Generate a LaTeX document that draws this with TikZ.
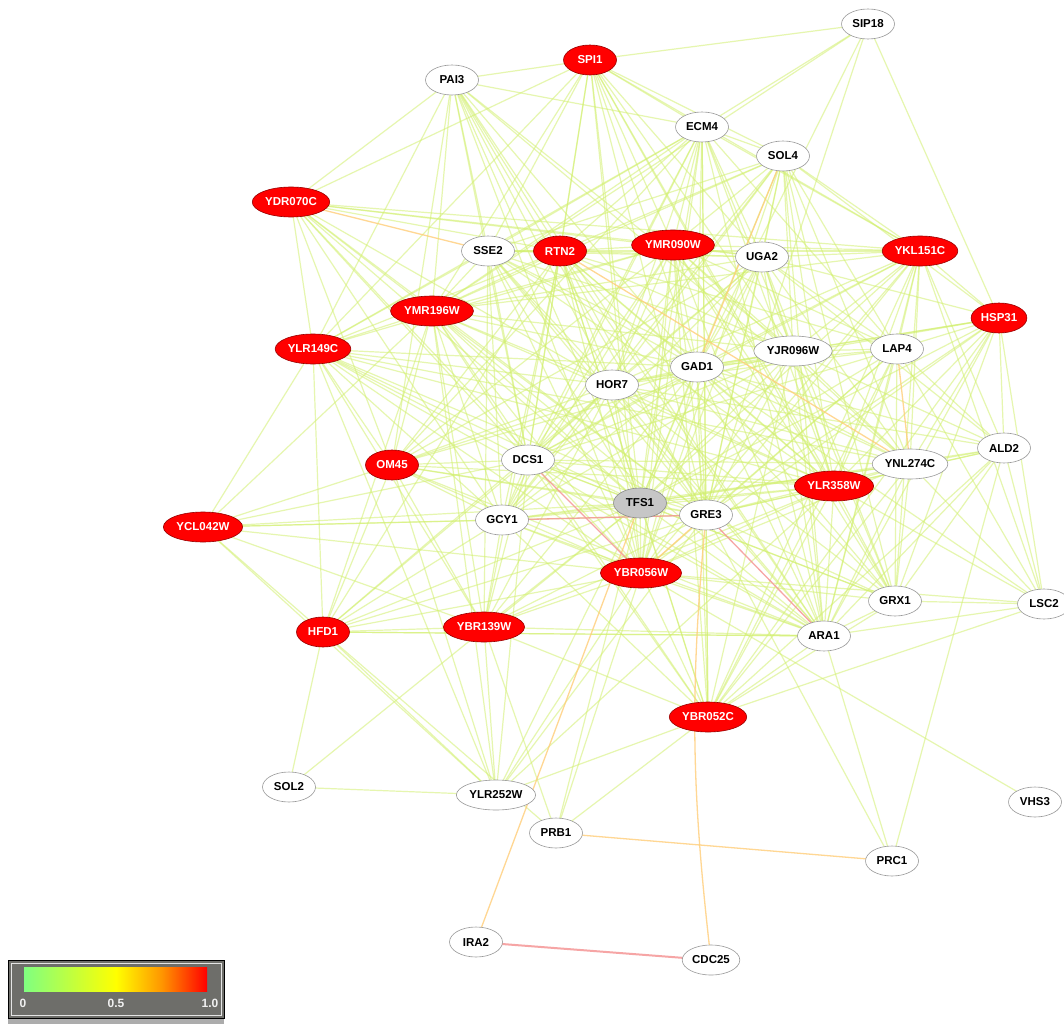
\documentclass[tikz,border=0pt]{standalone}
\usepackage{fontspec}
\setsansfont{Liberation Sans}
\usetikzlibrary{shapes.geometric}

\pgfdeclarelayer{canvas}
\pgfdeclarelayer{edges}
\pgfsetlayers{canvas,edges,main}

\definecolor{edgegreen}{RGB}{210,240,110}
\definecolor{edgeorange}{RGB}{255,205,120}
\definecolor{edgepink}{RGB}{245,150,150}
\definecolor{barframe}{RGB}{110,110,106}

\tikzset{
  gene/.style={ellipse, minimum width=53, minimum height=30, inner xsep=1.5pt, inner ysep=3pt,
    font=\sffamily\bfseries\fontsize{11.5}{11.5}\selectfont},
  wnode/.style={gene, draw=gray!80, fill=white, text=black, line width=0.6pt},
  rnode/.style={gene, draw=red!60!black, fill=red, text=white, line width=0.6pt},
  gnode/.style={gene, draw=gray!90, fill=gray!45, text=black, line width=0.6pt},
  edge/.style={draw=edgegreen, line width=1.2pt, opacity=0.55},
  oedge/.style={draw=edgeorange, line width=1.3pt, opacity=0.8},
  pedge/.style={draw=edgepink, line width=1.3pt, opacity=0.85},
  barlabel/.style={font=\sffamily\bfseries\fontsize{12}{12}\selectfont, text=gray!12}
}

\begin{document}
\begin{tikzpicture}[x=1pt,y=-1pt]

% canvas
\begin{pgfonlayer}{canvas}
\fill[white] (0,0) rectangle (1064,1024);
\end{pgfonlayer}
\useasboundingbox (0,0) rectangle (1064,1024);

% genes
\node[wnode] (sip18) at (868,24) {SIP18};
\node[rnode] (spi1) at (590,60) {SPI1};
\node[wnode] (pai3) at (452,80) {PAI3};
\node[wnode] (ecm4) at (702,127) {ECM4};
\node[wnode] (sol4) at (783,156) {SOL4};
\node[rnode] (ydr070c) at (291,202) {YDR070C};
\node[wnode] (sse2) at (488,251) {SSE2};
\node[rnode] (rtn2) at (560,251) {RTN2};
\node[rnode] (ymr090w) at (673,245) {YMR090W};
\node[wnode] (uga2) at (762,257) {UGA2};
\node[rnode] (ykl151c) at (920,251) {YKL151C};
\node[rnode] (hsp31) at (999,318) {HSP31};
\node[rnode] (ymr196w) at (432,311) {YMR196W};
\node[rnode] (ylr149c) at (313,349) {YLR149C};
\node[wnode] (lap4) at (897,349) {LAP4};
\node[wnode] (yjr096w) at (793,351) {YJR096W};
\node[wnode] (gad1) at (697,367) {GAD1};
\node[wnode] (hor7) at (612,385) {HOR7};
\node[rnode] (om45) at (392,465) {OM45};
\node[wnode] (dcs1) at (528,460) {DCS1};
\node[wnode] (ald2) at (1004,448) {ALD2};
\node[wnode] (ynl274c) at (910,464) {YNL274C};
\node[rnode] (ylr358w) at (834,486) {YLR358W};
\node[gnode] (tfs1) at (640,503) {TFS1};
\node[wnode] (gre3) at (706,515) {GRE3};
\node[wnode] (gcy1) at (502,520) {GCY1};
\node[rnode] (ycl042w) at (203,527) {YCL042W};
\node[rnode] (ybr056w) at (641,573) {YBR056W};
\node[wnode] (grx1) at (895,601) {GRX1};
\node[wnode] (lsc2) at (1044,604) {LSC2};
\node[wnode] (ara1) at (824,636) {ARA1};
\node[rnode] (hfd1) at (323,632) {HFD1};
\node[rnode] (ybr139w) at (484,627) {YBR139W};
\node[rnode] (ybr052c) at (708,717) {YBR052C};
\node[wnode] (sol2) at (289,787) {SOL2};
\node[wnode] (ylr252w) at (496,795) {YLR252W};
\node[wnode] (vhs3) at (1035,802) {VHS3};
\node[wnode] (prb1) at (556,833) {PRB1};
\node[wnode] (prc1) at (892,861) {PRC1};
\node[wnode] (ira2) at (476,942) {IRA2};
\node[wnode] (cdc25) at (711,960) {CDC25};

% correlations
\begin{pgfonlayer}{edges}
\foreach \s/\tlist in {
  spi1/{pai3,sip18,ydr070c,ecm4,sol4,sse2,rtn2,ymr090w,uga2,ykl151c,ymr196w,ylr149c,gad1,dcs1,tfs1,gre3,ybr056w,ylr358w,grx1,yjr096w},
  pai3/{ydr070c,ecm4,ylr149c,ymr196w,sse2,rtn2,hor7,dcs1,gad1,om45,tfs1,gre3,ybr056w,yjr096w,ynl274c,ara1},
  sip18/{ecm4,gad1,gre3,hsp31,ymr196w},
  ecm4/{sol4,sse2,rtn2,ymr090w,uga2,ykl151c,ymr196w,ylr149c,hor7,gad1,dcs1,gcy1,tfs1,gre3,ybr056w,ybr052c,yjr096w,lap4,ylr358w,ara1,om45},
  sol4/{ykl151c,ymr090w,uga2,hor7,yjr096w,lap4,ynl274c,ylr358w,tfs1,gre3,ybr056w,ara1,grx1,hsp31,ymr196w,rtn2,sse2,dcs1,gcy1},
  ydr070c/{ylr149c,ymr196w,rtn2,ymr090w,ykl151c,hor7,dcs1,tfs1,gre3,ybr056w,om45,gcy1,uga2},
  sse2/{rtn2,ymr196w,ylr149c,hor7,gad1,dcs1,gcy1,tfs1,gre3,ybr056w,ybr139w,ylr358w,ynl274c,ara1,uga2,yjr096w,ykl151c},
  rtn2/{ymr090w,ymr196w,ylr149c,hor7,gad1,dcs1,gcy1,tfs1,gre3,ybr056w,ybr052c,ybr139w,ylr358w,ara1,yjr096w,uga2,lap4,grx1,hfd1,om45},
  ymr090w/{uga2,ykl151c,hor7,gad1,dcs1,gcy1,tfs1,gre3,ybr056w,ybr052c,ylr358w,yjr096w,lap4,ara1,grx1,ymr196w,ylr149c,om45,ynl274c},
  uga2/{ykl151c,hsp31,gad1,hor7,yjr096w,lap4,ynl274c,ylr358w,tfs1,gre3,gcy1,ybr056w,ara1,grx1,ald2,dcs1,ymr196w,om45},
  ykl151c/{hsp31,lap4,yjr096w,gad1,hor7,ynl274c,ylr358w,ald2,grx1,ara1,lsc2,tfs1,gre3,ybr056w,ybr052c,dcs1,ymr196w},
  hsp31/{lap4,ald2,ynl274c,grx1,ara1,yjr096w,gad1,hor7,tfs1,gre3,lsc2,ylr358w,ybr056w,ybr052c},
  ymr196w/{ylr149c,ycl042w,hor7,gad1,dcs1,gcy1,tfs1,gre3,om45,ybr056w,ybr139w,hfd1,ylr358w,yjr096w,ylr252w,ara1,ybr052c},
  ylr149c/{ycl042w,hfd1,om45,dcs1,gcy1,hor7,gad1,tfs1,gre3,ybr056w,ybr139w,ylr252w,ylr358w,ynl274c,ara1},
  lap4/{ald2,ylr358w,grx1,ara1,yjr096w,gad1,hor7,tfs1,gre3,ybr056w,ybr052c,lsc2,dcs1},
  yjr096w/{gad1,hor7,ylr358w,ynl274c,ald2,grx1,ara1,tfs1,gre3,gcy1,dcs1,ybr056w,ybr052c,om45},
  gad1/{hor7,dcs1,gcy1,tfs1,gre3,ybr056w,ybr052c,ylr358w,ynl274c,ald2,grx1,ara1,om45,ybr139w,lsc2},
  hor7/{dcs1,gcy1,tfs1,gre3,ybr056w,ybr139w,ylr358w,ynl274c,ald2,grx1,ara1,om45,hfd1},
  om45/{ycl042w,hfd1,dcs1,gcy1,tfs1,gre3,ybr056w,ybr139w,ylr252w,ylr358w,ara1},
  dcs1/{gcy1,tfs1,gre3,ybr139w,ylr358w,ynl274c,ara1,hfd1,ycl042w,ylr252w,ybr052c,grx1},
  ald2/{ynl274c,ylr358w,grx1,ara1,prc1,ybr052c,lsc2,tfs1,gre3},
  ynl274c/{ylr358w,grx1,ara1,tfs1,gre3,ybr056w,ybr052c,lsc2,gcy1},
  ylr358w/{tfs1,gre3,ybr056w,grx1,ara1,ybr052c,lsc2,ylr252w,gcy1,ybr139w},
  tfs1/{gre3,gcy1,ybr056w,ycl042w,hfd1,ybr139w,ybr052c,grx1,ara1,prb1,ylr252w,sol2},
  gre3/{ycl042w,hfd1,ybr139w,ybr052c,grx1,prc1,ylr252w},
  gcy1/{ybr056w,ycl042w,hfd1,ybr139w,ybr052c,ara1},
  ycl042w/{hfd1,ybr139w,ybr056w,ylr252w},
  ybr056w/{ybr139w,ybr052c,ara1,grx1,lsc2,prb1,vhs3,hfd1,ylr252w},
  grx1/{ara1,lsc2,ybr052c},
  ara1/{lsc2,ybr052c,prc1,hfd1,ybr139w},
  hfd1/{sol2,ylr252w,ybr139w,prb1,ara1},
  ybr139w/{ylr252w,ybr052c,prb1},
  ybr052c/{lsc2,ylr252w,prb1},
  sol2/{ylr252w}}
  \foreach \t in \tlist {\draw[edge] (\s.center) -- (\t.center);};

% stronger correlations
\foreach \a/\b in {prb1/prc1, ira2/tfs1, sol4/gad1, lap4/ynl274c, ydr070c/sse2, gre3/ybr056w, rtn2/ynl274c}
  \draw[oedge] (\a.center) -- (\b.center);
\draw[oedge] (cdc25.center) to[bend left=6] (gre3.center);
\foreach \a/\b in {gcy1/gre3, dcs1/ybr056w, gre3/ara1}
  \draw[pedge] (\a.center) -- (\b.center);
\draw[pedge, line width=2pt] (ira2.center) -- (cdc25.center);
\end{pgfonlayer}

% colour bar
\fill[barframe] (8,960) rectangle (224,1018);
\fill[gray!65] (8,1018) rectangle (224,1024);
\draw[black, line width=1pt] (8,960) rectangle (224,1018);
\draw[gray!20, line width=0.6pt] (11,963) rectangle (221,1015);
\shade[left color={rgb,255:red,128;green,255;blue,128}, right color={rgb,255:red,255;green,255;blue,0}] (24,967) rectangle (116,991);
\shade[left color={rgb,255:red,255;green,255;blue,0}, right color={rgb,255:red,255;green,0;blue,0}, middle color={rgb,255:red,255;green,150;blue,0}] (116,967) rectangle (207,991);
\node[barlabel] (zero) at (23,1003) {0};
\node[barlabel] (half) at (116,1003) {0.5};
\node[barlabel] (one) at (210,1003) {1.0};

\end{tikzpicture}
\end{document}
